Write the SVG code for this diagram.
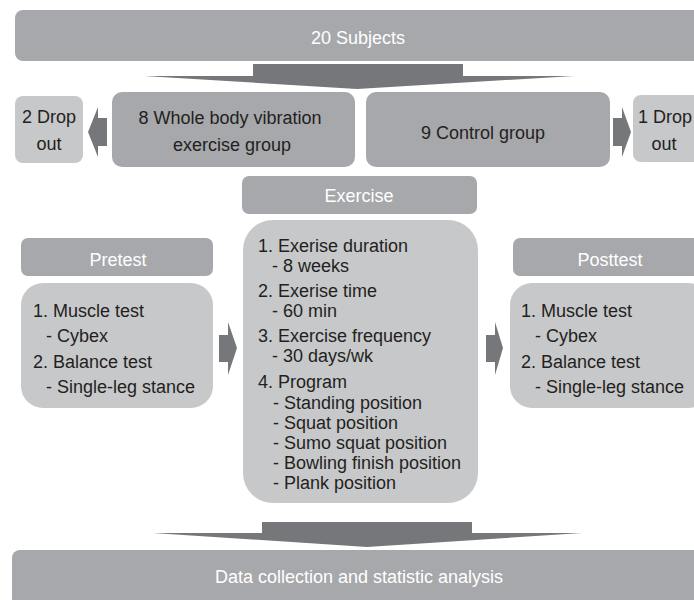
<svg xmlns="http://www.w3.org/2000/svg" width="694" height="600" viewBox="0 0 694 600">
<style>
.dk{fill:#a7a8ab}
.lt{fill:#c7c8ca}
.ar{fill:#76777a}
text{font-family:"Liberation Sans",Arial,sans-serif;font-size:18px}
.w{fill:#ffffff;text-anchor:middle}
.b{fill:#231f20}
.bc{fill:#231f20;text-anchor:middle}
</style>
<rect width="694" height="600" fill="#ffffff"/>
<g id="subjects">
<rect class="dk" x="15" y="10" width="700" height="51" rx="8"/>
<text class="w" x="358" y="44">20 Subjects</text>
</g>
<g id="wbv">
<rect class="dk" x="112" y="92" width="243" height="75" rx="10"/>
<text class="bc" x="230" y="124">8 Whole body vibration</text>
<text class="bc" x="232" y="151">exercise group</text>
</g>
<g id="control">
<rect class="dk" x="366" y="92" width="244" height="75" rx="10"/>
<text class="bc" x="483" y="139">9 Control group</text>
</g>
<g id="drop2">
<rect class="lt" x="15" y="96" width="68" height="67" rx="8"/>
<text class="bc" x="49" y="123">2 Drop</text>
<text class="bc" x="49" y="150">out</text>
</g>
<g id="drop1">
<rect class="lt" x="633" y="95" width="80" height="67" rx="8"/>
<text class="bc" x="665" y="123">1 Drop</text>
<text class="bc" x="664" y="150">out</text>
</g>
<g id="exercise-header">
<rect class="dk" x="242" y="176" width="235" height="38" rx="7"/>
<text class="w" x="359" y="202">Exercise</text>
</g>
<g id="exercise">
<rect class="lt" x="243" y="220" width="235" height="283" rx="30"/>
<text class="b" x="258" y="252">1. Exerise duration</text>
<text class="b" x="272" y="272">- 8 weeks</text>
<text class="b" x="258" y="297">2. Exerise time</text>
<text class="b" x="272" y="317">- 60 min</text>
<text class="b" x="258" y="342">3. Exercise frequency</text>
<text class="b" x="272" y="362">- 30 days/wk</text>
<text class="b" x="258" y="388">4. Program</text>
<text class="b" x="273" y="409">- Standing position</text>
<text class="b" x="273" y="429">- Squat position</text>
<text class="b" x="273" y="449">- Sumo squat position</text>
<text class="b" x="273" y="469">- Bowling finish position</text>
<text class="b" x="273" y="489">- Plank position</text>
</g>
<g id="pretest-header">
<rect class="dk" x="21" y="238" width="192" height="38" rx="7"/>
<text class="w" x="118" y="266">Pretest</text>
</g>
<g id="pretest">
<rect class="lt" x="21" y="283" width="192" height="125" rx="22"/>
<text class="b" x="33" y="317">1. Muscle test</text>
<text class="b" x="46" y="342">- Cybex</text>
<text class="b" x="33" y="368">2. Balance test</text>
<text class="b" x="46" y="393">- Single-leg stance</text>
</g>
<g id="posttest-header">
<rect class="dk" x="513" y="238" width="200" height="38" rx="7"/>
<text class="w" x="610" y="266">Posttest</text>
</g>
<g id="posttest">
<rect class="lt" x="510" y="283" width="200" height="125" rx="22"/>
<text class="b" x="521" y="317">1. Muscle test</text>
<text class="b" x="535" y="342">- Cybex</text>
<text class="b" x="521" y="368">2. Balance test</text>
<text class="b" x="535" y="393">- Single-leg stance</text>
</g>
<g id="analysis">
<rect class="dk" x="12" y="550" width="700" height="60" rx="8"/>
<text class="w" x="359" y="583">Data collection and statistic analysis</text>
</g>
<g id="connectors">
<polygon class="ar" points="253,64 463,64 463,76 574,76 357,89 144,76 253,76"/>
<polygon class="ar" points="107,118 98,118 98,107 88,132 98,157 98,146 107,146"/>
<polygon class="ar" points="613,118 622,118 622,107 631,132 622,157 622,146 613,146"/>
<polygon class="ar" points="219,335 228,335 228,322 237,348 228,375 228,362 219,362"/>
<polygon class="ar" points="486,335 495,335 495,322 503,348 495,375 495,362 486,362"/>
<polygon class="ar" points="262,522 472,522 472,533 582,533 367,547 153,533 262,533"/>
</g>
</svg>
